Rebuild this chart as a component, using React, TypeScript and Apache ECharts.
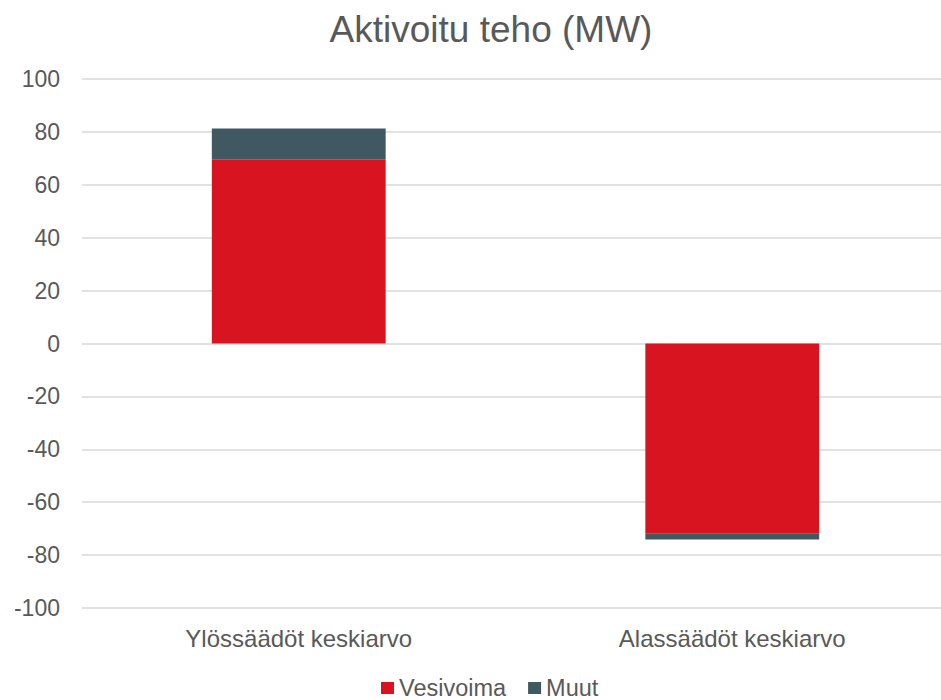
import React, { useEffect, useRef } from "react";
import * as echarts from "echarts";

const categories = ["Ylössäädöt keskiarvo", "Alassäädöt keskiarvo"];
const vesivoima = [69.5, -71.9];
const muut = [11.8, -2.2];
const seriesNames = ["Vesivoima", "Muut"];
const titleText = "Aktivoitu teho (MW)";

const FONT = "'Liberation Sans', Arial, sans-serif";
const TEXT = "#595959";

export default function App() {
  const ref = useRef<HTMLDivElement>(null);
  useEffect(() => {
    if (!ref.current) return;
    const chart = echarts.init(ref.current, null, { renderer: "svg" });
    chart.setOption({
      animation: false,
      backgroundColor: "#ffffff",
      textStyle: { fontFamily: FONT, color: TEXT },
      title: {
        text: titleText,
        left: 486,
        top: 6,
        textAlign: "center",
        textStyle: { fontFamily: FONT, fontSize: 37, fontWeight: "normal", color: TEXT },
      },
      grid: {
        left: 82,
        right: -8,
        top: 79,
        bottom: 92,
        containLabel: false,
        outerBoundsMode: "none",
      },
      legend: {
        top: 676,
        left: 381,
        padding: 0,
        itemWidth: 13,
        itemHeight: 12,
        itemGap: 22,
        icon: "rect",
        data: seriesNames,
        textStyle: { fontFamily: FONT, fontSize: 23.5, lineHeight: 24, color: TEXT },
      },
      xAxis: {
        type: "category",
        data: categories,
        axisLine: { show: false, onZero: false },
        axisTick: { show: false },
        axisLabel: { fontFamily: FONT, fontSize: 24, color: TEXT, margin: 18 },
      },
      yAxis: {
        type: "value",
        min: -100,
        max: 100,
        interval: 20,
        axisLine: { show: false },
        axisTick: { show: false },
        axisLabel: { fontFamily: FONT, fontSize: 23, color: TEXT, margin: 22 },
        splitLine: { lineStyle: { color: "#d9d9d9", width: 1.5 } },
      },
      series: [
        {
          name: seriesNames[0],
          type: "bar",
          stack: "total",
          data: vesivoima,
          barWidth: "40.1%",
          itemStyle: { color: "#D7141F" },
        },
        {
          name: seriesNames[1],
          type: "bar",
          stack: "total",
          data: muut,
          barWidth: "40.1%",
          itemStyle: { color: "#3F5862" },
        },
      ],
    });
    return () => chart.dispose();
  }, []);
  return (
    <div
      ref={ref}
      style={{ position: "fixed", left: 0, top: 0, width: 941, height: 700 }}
    />
  );
}
